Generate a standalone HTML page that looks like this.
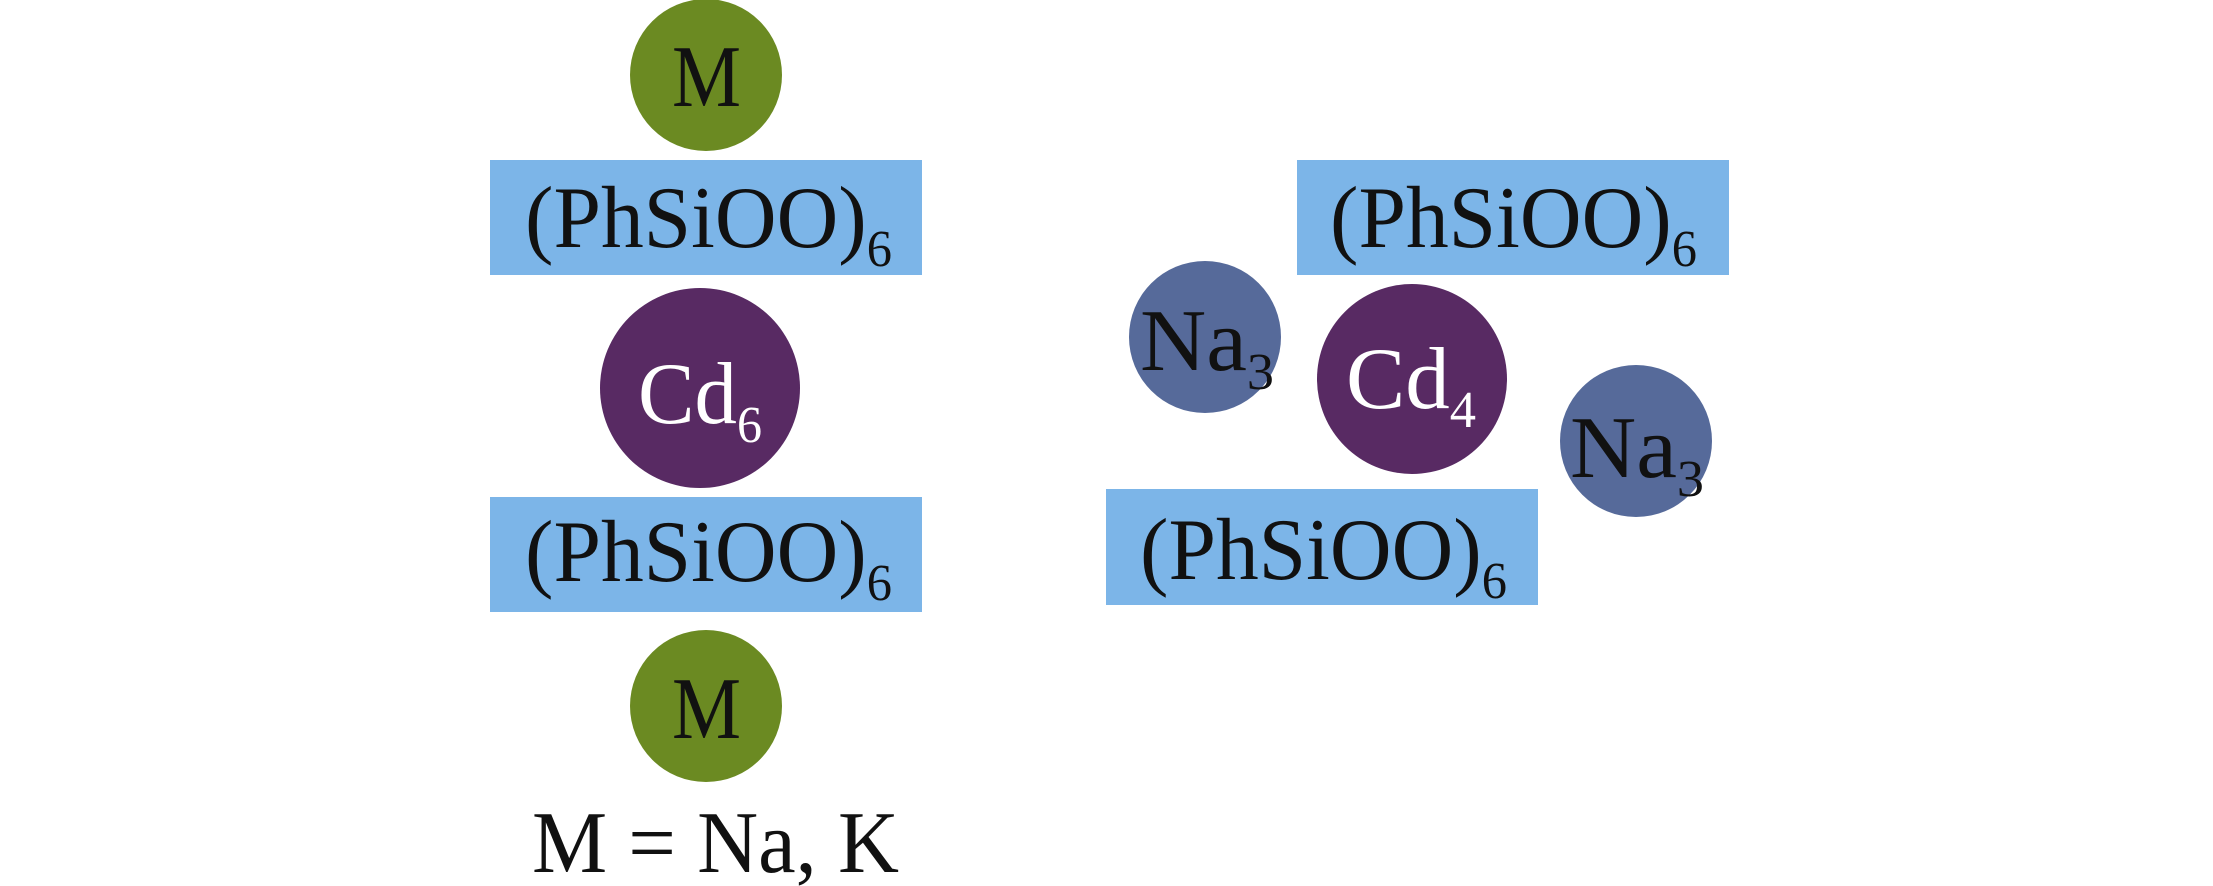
<!DOCTYPE html>
<html><head><meta charset="utf-8"><style>
html,body{margin:0;padding:0;background:#fff;}
svg{display:block;}
text{font-family:"Liberation Serif","Times New Roman",serif;}
</style></head><body>
<svg width="2213" height="886" viewBox="0 0 2213 886" xmlns="http://www.w3.org/2000/svg">
<rect width="2213" height="886" fill="#fff"/>
<g fill="#7cb5e8">
<rect x="490" y="160" width="432" height="115"/>
<rect x="490" y="497" width="432" height="115"/>
<rect x="1297" y="160" width="432" height="115"/>
<rect x="1106" y="489" width="432" height="116"/>
</g>
<ellipse cx="706" cy="75" rx="76" ry="76" fill="#6b8a22"/>
<ellipse cx="706" cy="706" rx="76" ry="76" fill="#6b8a22"/>
<ellipse cx="700" cy="388" rx="100" ry="100" fill="#582a63"/>
<ellipse cx="1412" cy="379" rx="95" ry="95" fill="#582a63"/>
<ellipse cx="1205" cy="337" rx="76" ry="76" fill="#566a9a"/>
<ellipse cx="1636" cy="441" rx="76" ry="76" fill="#566a9a"/>
<g font-size="88" fill="#111">
<text x="525" y="247" textLength="367" lengthAdjust="spacingAndGlyphs">(PhSiOO)<tspan font-size="52" dy="19">6</tspan></text>
<text x="525" y="581" textLength="367" lengthAdjust="spacingAndGlyphs">(PhSiOO)<tspan font-size="52" dy="19">6</tspan></text>
<text x="1330" y="247" textLength="367" lengthAdjust="spacingAndGlyphs">(PhSiOO)<tspan font-size="52" dy="19">6</tspan></text>
<text x="1140" y="579" textLength="367" lengthAdjust="spacingAndGlyphs">(PhSiOO)<tspan font-size="52" dy="19">6</tspan></text>
<text x="672" y="106" textLength="69" lengthAdjust="spacingAndGlyphs">M</text>
<text x="672" y="738" textLength="69" lengthAdjust="spacingAndGlyphs">M</text>
<text x="1140" y="370" textLength="134" lengthAdjust="spacingAndGlyphs">Na<tspan font-size="52" dy="19">3</tspan></text>
<text x="1570" y="477" textLength="134" lengthAdjust="spacingAndGlyphs">Na<tspan font-size="52" dy="19">3</tspan></text>
<text x="532" y="872" textLength="367" lengthAdjust="spacingAndGlyphs">M = Na, K</text>
</g>
<g font-size="88" fill="#fff">
<text x="638" y="423" textLength="124" lengthAdjust="spacingAndGlyphs">Cd<tspan font-size="52" dy="19">6</tspan></text>
<text x="1346" y="408" textLength="130" lengthAdjust="spacingAndGlyphs">Cd<tspan font-size="52" dy="19">4</tspan></text>
</g>
</svg>
</body></html>
